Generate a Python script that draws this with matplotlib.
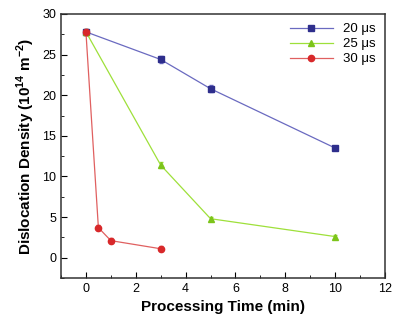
import matplotlib
matplotlib.use("Agg")
import matplotlib.pyplot as plt
from matplotlib.ticker import MultipleLocator

plt.rcParams["font.family"] = ["Liberation Sans", "DejaVu Sans"]
plt.rcParams["mathtext.fontset"] = "custom"
plt.rcParams["mathtext.rm"] = "Liberation Sans"
plt.rcParams["mathtext.bf"] = "Liberation Sans:bold"

# processing time (min) and dislocation density (1e14 m^-2)
t_20 = [0, 3, 5, 10]
rho_20 = [27.8, 24.4, 20.8, 13.5]
err_20 = [0.4, 0.4, 0.4, 0.2]

t_25 = [0, 3, 5, 10]
rho_25 = [27.8, 11.4, 4.8, 2.6]
err_25 = [0.4, 0.4, 0.2, 0.2]

t_30 = [0, 0.5, 1, 3]
rho_30 = [27.8, 3.7, 2.1, 1.1]
err_30 = [0.4, 0.3, 0.3, 0.3]

labels = ["20 μs", "25 μs", "30 μs"]

fig = plt.figure(figsize=(3.99, 3.27), dpi=100)
ax = fig.add_axes([61 / 399, 1 - 278 / 327, 324 / 399, 264 / 327])

series = [
    (t_20, rho_20, err_20, "#6a6ac0", "#2e2e8c", "s", 4),
    (t_25, rho_25, err_25, "#9ee03a", "#7cc41a", "^", 5),
    (t_30, rho_30, err_30, "#e06060", "#d8282a", "o", 4.5),
]
handles = []
for (t, rho, err, lc, mc, m, ms), lab in zip(series, labels):
    cont = ax.errorbar(t, rho, yerr=err, color=lc, marker=m, ms=ms,
                       mfc=mc, mec=mc, lw=0.9, capsize=1.5, label=lab)
    handles.append(cont.lines[0])

ax.set_xlim(-1, 12)
ax.set_ylim(-2.5, 30)
ax.xaxis.set_major_locator(MultipleLocator(2))
ax.xaxis.set_minor_locator(MultipleLocator(1))
ax.yaxis.set_major_locator(MultipleLocator(5))
ax.yaxis.set_minor_locator(MultipleLocator(2.5))
ax.tick_params(which="both", direction="in", labelsize=9, top=False, right=False)
ax.tick_params(which="major", length=4)
ax.tick_params(which="minor", length=2)
for s in ax.spines.values():
    s.set_linewidth(1.1)
    s.set_color("#333333")

ax.set_xlabel("Processing Time (min)", fontsize=11, fontweight="bold")
ax.set_ylabel("Dislocation Density (10$^{\\mathbf{14}}$ m$^{\\mathbf{-2}}$)",
              fontsize=11, fontweight="bold")
ax.legend(handles, labels, loc="upper right", frameon=False, fontsize=9.5,
          handlelength=3.2, labelspacing=0.2, borderaxespad=0.3)

fig.savefig("out.png", dpi=100)
